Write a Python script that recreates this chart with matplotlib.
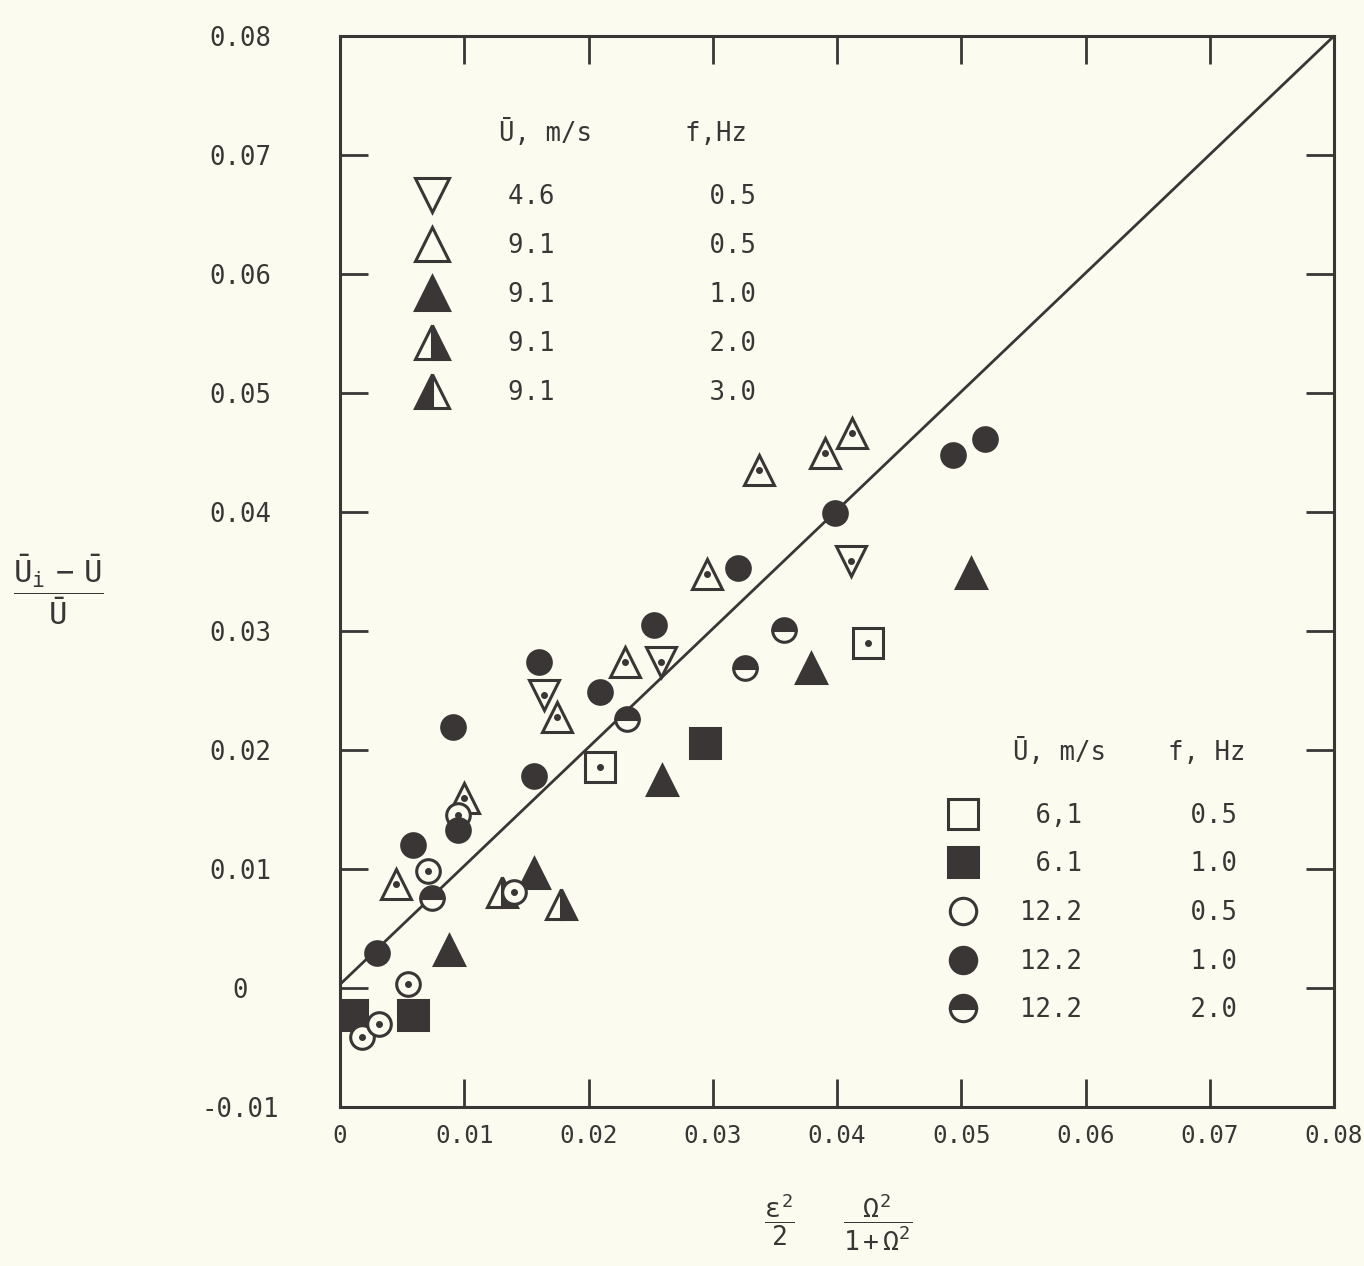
import numpy as np
import matplotlib
matplotlib.use("Agg")
import matplotlib.pyplot as plt
from matplotlib.lines import Line2D

plt.rcParams['font.family'] = ['DejaVu Sans Mono', 'DejaVu Sans']
plt.rcParams['mathtext.fontset'] = 'custom'
plt.rcParams['mathtext.rm'] = 'DejaVu Sans Mono'
plt.rcParams['mathtext.it'] = 'DejaVu Sans Mono'

INK = '#3a3636'
BG = '#fbfbf0'
FS = 18.5

# --- data ---
# U = 4.6 m/s, f = 0.5 Hz (open inverted triangles)
inv_x = [0.0164, 0.0258, 0.0411]
inv_y = [0.0246, 0.0274, 0.0359]
# U = 9.1, f = 0.5 (open triangles)
tri_open_x = [0.0045, 0.0100, 0.0175, 0.0229, 0.0295, 0.0337, 0.0390, 0.0412]
tri_open_y = [0.0087, 0.0160, 0.0228, 0.0274, 0.0348, 0.0435, 0.0450, 0.0466]
# U = 9.1, f = 1.0 (filled triangles)
tri_fill_x = [0.0088, 0.0156, 0.0259, 0.0379, 0.0508]
tri_fill_y = [0.0032, 0.0097, 0.0175, 0.0269, 0.0349]
# U = 9.1, f = 2.0 (half triangles)
tri_half_x = [0.0130, 0.0178]
tri_half_y = [0.0081, 0.0071]
# U = 6.1, f = 0.5 (open squares)
sq_open_x = [0.0209, 0.0425]
sq_open_y = [0.0186, 0.0290]
# U = 6.1, f = 1.0 (filled squares)
sq_fill_x = [0.0010, 0.0059, 0.0294]
sq_fill_y = [-0.0023, -0.0023, 0.0206]
# U = 12.2, f = 0.5 (open circles)
circ_open_x = [0.0018, 0.0031, 0.0055, 0.0071, 0.0095, 0.0140]
circ_open_y = [-0.0041, -0.0030, 0.0003, 0.0098, 0.0145, 0.0081]
# U = 12.2, f = 1.0 (filled circles)
circ_fill_x = [0.0030, 0.0059, 0.0091, 0.0095, 0.0156, 0.0160, 0.0209, 0.0253,
               0.0320, 0.0398, 0.0493, 0.0519]
circ_fill_y = [0.0029, 0.0120, 0.0219, 0.0133, 0.0178, 0.0274, 0.0249, 0.0305,
               0.0353, 0.0399, 0.0448, 0.0461]
# U = 12.2, f = 2.0 (half circles)
circ_half_x = [0.0074, 0.0231, 0.0326, 0.0357]
circ_half_y = [0.0076, 0.0226, 0.0269, 0.0301]

# reference line
line_x = [0.0, 0.08]
line_y = [0.0003, 0.08]

xticks = [0, 0.01, 0.02, 0.03, 0.04, 0.05, 0.06, 0.07, 0.08]
xtick_labels = ['0', '0.01', '0.02', '0.03', '0.04', '0.05', '0.06', '0.07', '0.08']
yticks = [-0.01, 0, 0.01, 0.02, 0.03, 0.04, 0.05, 0.06, 0.07, 0.08]
ytick_labels = ['-0.01', '0', '0.01', '0.02', '0.03', '0.04', '0.05', '0.06', '0.07', '0.08']

legend1_rows = ['4.6          0.5', '9.1          0.5', '9.1          1.0',
                '9.1          2.0', '9.1          3.0']
legend2_rows = [' 6,1       0.5', ' 6.1       1.0', '12.2       0.5',
                '12.2       1.0', '12.2       2.0']

fig = plt.figure(figsize=(13.64, 12.66), dpi=100, facecolor=BG)
ax = fig.add_axes([340 / 1364, 1 - 1107 / 1266, 994 / 1364, 1071 / 1266])
ax.set_facecolor(BG)

ax.plot(line_x, line_y, color=INK, lw=2.0, zorder=1)


def pts(x, y, marker, ms, face, fillstyle='full', dot=False):
    ax.plot(x, y, ls='none', marker=marker, ms=ms, mec=INK, mew=2.2,
            mfc=face, fillstyle=fillstyle, markerfacecoloralt=BG, zorder=3)
    if dot:
        ax.plot(x, y, ls='none', marker='o', ms=4, color=INK, zorder=4)


pts(inv_x, inv_y, 'v', 22, BG, dot=True)
pts(tri_open_x, tri_open_y, '^', 22, BG, dot=True)
pts(tri_fill_x, tri_fill_y, '^', 22, INK)
pts(tri_half_x, tri_half_y, '^', 22, INK, fillstyle='right')
pts(sq_open_x, sq_open_y, 's', 21, BG, dot=True)
pts(sq_fill_x, sq_fill_y, 's', 21, INK)
pts(circ_open_x, circ_open_y, 'o', 17, BG, dot=True)
pts(circ_fill_x, circ_fill_y, 'o', 17, INK)
pts(circ_half_x, circ_half_y, 'o', 17, INK, fillstyle='top')

ax.set_xlim(0, 0.08)
ax.set_ylim(-0.01, 0.08)
ax.set_xticks(xticks, labels=xtick_labels)
ax.set_yticks(yticks, labels=ytick_labels, ha='center')
ax.tick_params(direction='in', length=20, width=2, top=True, right=True,
               color=INK, labelcolor=INK, labelsize=FS)
ax.tick_params(axis='x', pad=12, labelsize=17.5)
ax.tick_params(axis='y', pad=72)
for s in ax.spines.values():
    s.set_linewidth(2.2)
    s.set_color(INK)


def handle(marker, ms, face, fillstyle='full'):
    return Line2D([], [], ls='none', marker=marker, ms=ms, mec=INK, mew=2.2,
                  mfc=face, fillstyle=fillstyle, markerfacecoloralt=BG)


h1 = [handle('v', 24, BG), handle('^', 24, BG), handle('^', 24, INK),
      handle('^', 24, INK, 'right'), handle('^', 24, INK, 'left')]
h2 = [handle('s', 22, BG), handle('s', 22, INK), handle('o', 19, BG),
      handle('o', 19, INK), handle('o', 19, INK, 'top')]

leg1 = ax.legend(h1, legend1_rows, loc='upper left', bbox_to_anchor=(0.0716, 0.862),
                 frameon=False, borderpad=0, borderaxespad=0, handlelength=1.6,
                 handletextpad=2.15, labelspacing=0.9, fontsize=FS, labelcolor=INK)
ax.add_artist(leg1)
ax.legend(h2, legend2_rows, loc='upper left', bbox_to_anchor=(0.6057, 0.284),
          frameon=False, borderpad=0, borderaxespad=0, handlelength=1.6,
          handletextpad=1.42, labelspacing=0.88, fontsize=FS, labelcolor=INK)

ax.text(0.160, 0.909, 'Ū, m/s      f,Hz', transform=ax.transAxes, fontsize=FS,
        color=INK, va='center', ha='left')
ax.text(0.677, 0.331, 'Ū, m/s    f, Hz', transform=ax.transAxes, fontsize=FS,
        color=INK, va='center', ha='left')

fig.text(58 / 1364, 1 - 590 / 1266,
         r'$\dfrac{\bar{\mathrm{U}}_{\mathrm{i}}\ -\ \bar{\mathrm{U}}}{\bar{\mathrm{U}}}$',
         fontsize=22, color=INK, ha='center', va='center')
fig.text(838 / 1364, 1 - 1222 / 1266,
         r'$\dfrac{\varepsilon^2}{2}\qquad\quad\dfrac{\Omega^2}{1+\Omega^2}$',
         fontsize=19, color=INK, ha='center', va='center')

fig.savefig('out.png', dpi=100, facecolor=BG)
